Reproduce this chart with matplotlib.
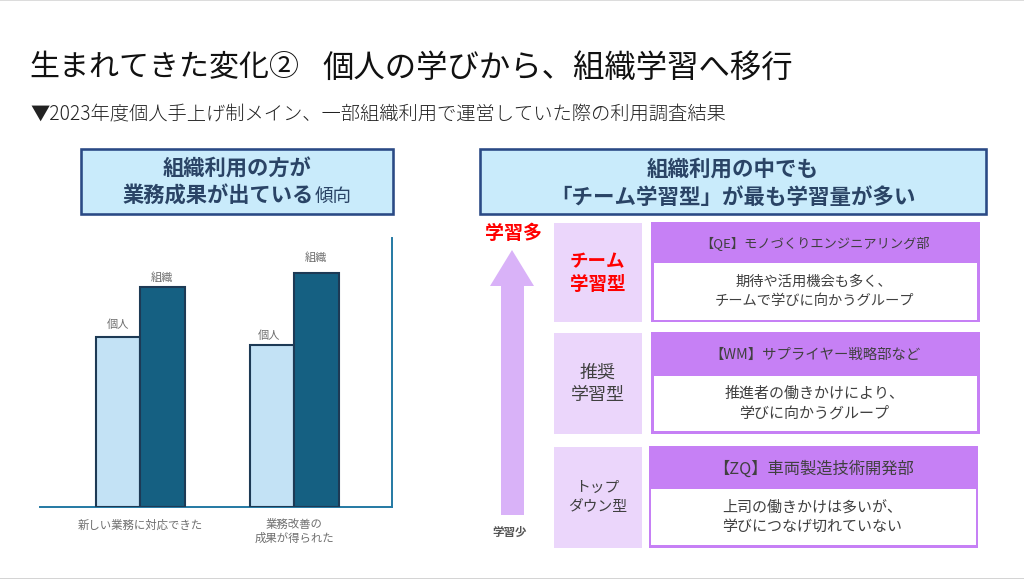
import matplotlib
matplotlib.use("Agg")
import matplotlib.pyplot as plt
from matplotlib.patches import Rectangle, Polygon

plt.rcParams['font.family'] = ['Noto Sans CJK JP', 'DejaVu Sans']

W, H = 1024, 579
PT = 72 / 100  # px -> pt at dpi 100

categories = ['新しい業務に対応できた', '業務改善の\n成果が得られた']
individual = [170, 162]
organization = [220, 234]
series_names = ['個人', '組織']
y_max = 269

title_left = '生まれてきた変化②'
title_right = '個人の学びから、組織学習へ移行'
subtitle = '▼2023年度個人手上げ制メイン、一部組織利用で運営していた際の利用調査結果'
row_types = ['チーム\n学習型', '推奨\n学習型', 'トップ\nダウン型']
row_heads = ['【QE】モノづくりエンジニアリング部', '【WM】サプライヤー戦略部など', '【ZQ】車両製造技術開発部']
row_bodies = ['期待や活用機会も多く、\nチームで学びに向かうグループ',
              '推進者の働きかけにより、\n学びに向かうグループ',
              '上司の働きかけは多いが、\n学びにつなげ切れていない']

fig = plt.figure(figsize=(W / 100, H / 100), dpi=100, facecolor='white')

# ---------- bar chart ----------
L, R, T, B = 40, 392, 238, 506.7
ax = fig.add_axes([L / W, 1 - B / H, (R - L) / W, (B - T) / H])
group_px = 154
bar_w = 44.5 / group_px
ax.set_xlim((L - 140) / group_px, (R - 140) / group_px)
ax.set_ylim(0, y_max)
xs = range(len(categories))
edge = '#1d3a55'
b1 = ax.bar([x - bar_w / 2 for x in xs], individual, bar_w, color='#c3e2f5', edgecolor=edge, linewidth=1.5, zorder=3)
b2 = ax.bar([x + bar_w / 2 for x in xs], organization, bar_w, color='#156082', edgecolor=edge, linewidth=1.5, zorder=3)
label_kw = dict(textcoords='offset points', ha='center', va='center', fontsize=11.2 * PT, color='#6e6e6e')
gaps = [[(0, 12), (-3, 9)], [(0, 9), (0, 15.5)]]
for bars, name, offs in zip((b1, b2), series_names, gaps):
    for bar, (dx, dy) in zip(bars, offs):
        ax.annotate(name, (bar.get_x() + bar.get_width() / 2, bar.get_height()),
                    xytext=(dx * PT, dy * PT), **label_kw)
ax.set_xticks(list(xs), categories, fontsize=11.4 * PT, color='#6e6e6e', linespacing=1.3)
ax.tick_params(axis='x', length=0, pad=9)
ax.set_yticks([])
for s in ('left', 'top'):
    ax.spines[s].set_visible(False)
for s in ('right', 'bottom'):
    ax.spines[s].set_color('#2479a3')
    ax.spines[s].set_linewidth(1.4)
ax.patch.set_alpha(0)

# ---------- slide overlay, in pixel coordinates ----------
ov = fig.add_axes([0, 0, 1, 1], zorder=-1)
ov.set_xlim(0, W)
ov.set_ylim(H, 0)
ov.axis('off')

def rect(x0, y0, x1, y1, fc, ec='none', lw=0):
    ov.add_patch(Rectangle((x0, y0), x1 - x0, y1 - y0, facecolor=fc, edgecolor=ec, linewidth=lw * PT))

def text(x, y, s, px, color='#404040', weight='normal', ha='center', ls=1.2):
    ov.text(x, y + 0.12 * px, s, fontsize=px * PT, color=color, fontweight=weight, ha=ha, va='center', linespacing=ls)

rect(0, 0, W, 1.2, '#dcdcdc')
rect(0, 577.8, W, 579, '#d4d4d4')
text(29, 64, title_left, 30, '#111111', 'normal', 'left')
text(322, 64, title_right, 31.4, '#111111', 'normal', 'left')
text(30, 113, subtitle, 19.3, '#222222', 'light', 'left')

navy = '#2a4466'
for x0, x1 in ((81, 393), (479.5, 986)):
    rect(x0, 149, x1, 214, '#c9ebfb', '#2a4a85', 2.6)
text(237, 166.5, '組織利用の方が', 21.3, navy, 'bold')
text(218.5, 193.5, '業務成果が出ている', 21.3, navy, 'bold')
text(333.5, 195, '傾向', 18.5, navy)
text(733, 166.5, '組織利用の中でも', 21.5, navy, 'bold')
text(733, 194.5, '「チーム学習型」が最も学習量が多い', 21.5, navy, 'bold')

# arrow
ov.add_patch(Polygon([(512, 250), (534, 286), (524, 286), (524, 515), (501, 515), (501, 286), (490, 286)],
                     closed=True, facecolor='#d9b2f8', edgecolor='none'))
text(514, 231, '学習多', 19, '#ff0000', 'bold')
text(510, 531, '学習少', 11.5, '#555555', 'bold')

rows = [(223, 322, 651, 979.5, 263, 319.5),
        (333, 433.5, 651, 979.5, 375.5, 431),
        (446.5, 547.5, 648.5, 978, 489, 544.5)]
type_styles = [('#ff0000', 'bold', 18.5), ('#404040', 'normal', 18), ('#404040', 'normal', 14.8)]
head_sizes = [13.2, 14.4, 16.3]
body_sizes = [14.3, 15, 15]
for (y0, y1, rx0, rx1, wy0, wy1), t, h, body, (tc, tw, tpx), hpx, bpx in zip(
        rows, row_types, row_heads, row_bodies, type_styles, head_sizes, body_sizes):
    rect(553.5, y0, 642, y1, '#ebd6fb')
    rect(rx0, y0 - 1, rx1, y1, '#c680f5')
    rect(rx0 + 2.5, wy0, rx1 - 2.5, wy1, 'white')
    text(597.5, (y0 + y1) / 2 - 1.5, t, tpx, tc, tw, ls=22.5 / tpx)
    text((rx0 + rx1) / 2, (y0 + wy0) / 2 - 1, h, hpx, '#404040')
    text((rx0 + rx1) / 2 - 1, (wy0 + wy1) / 2 - 1.5, body, bpx, '#404040', ls=21 / bpx)

fig.savefig('out.png', dpi=100)
